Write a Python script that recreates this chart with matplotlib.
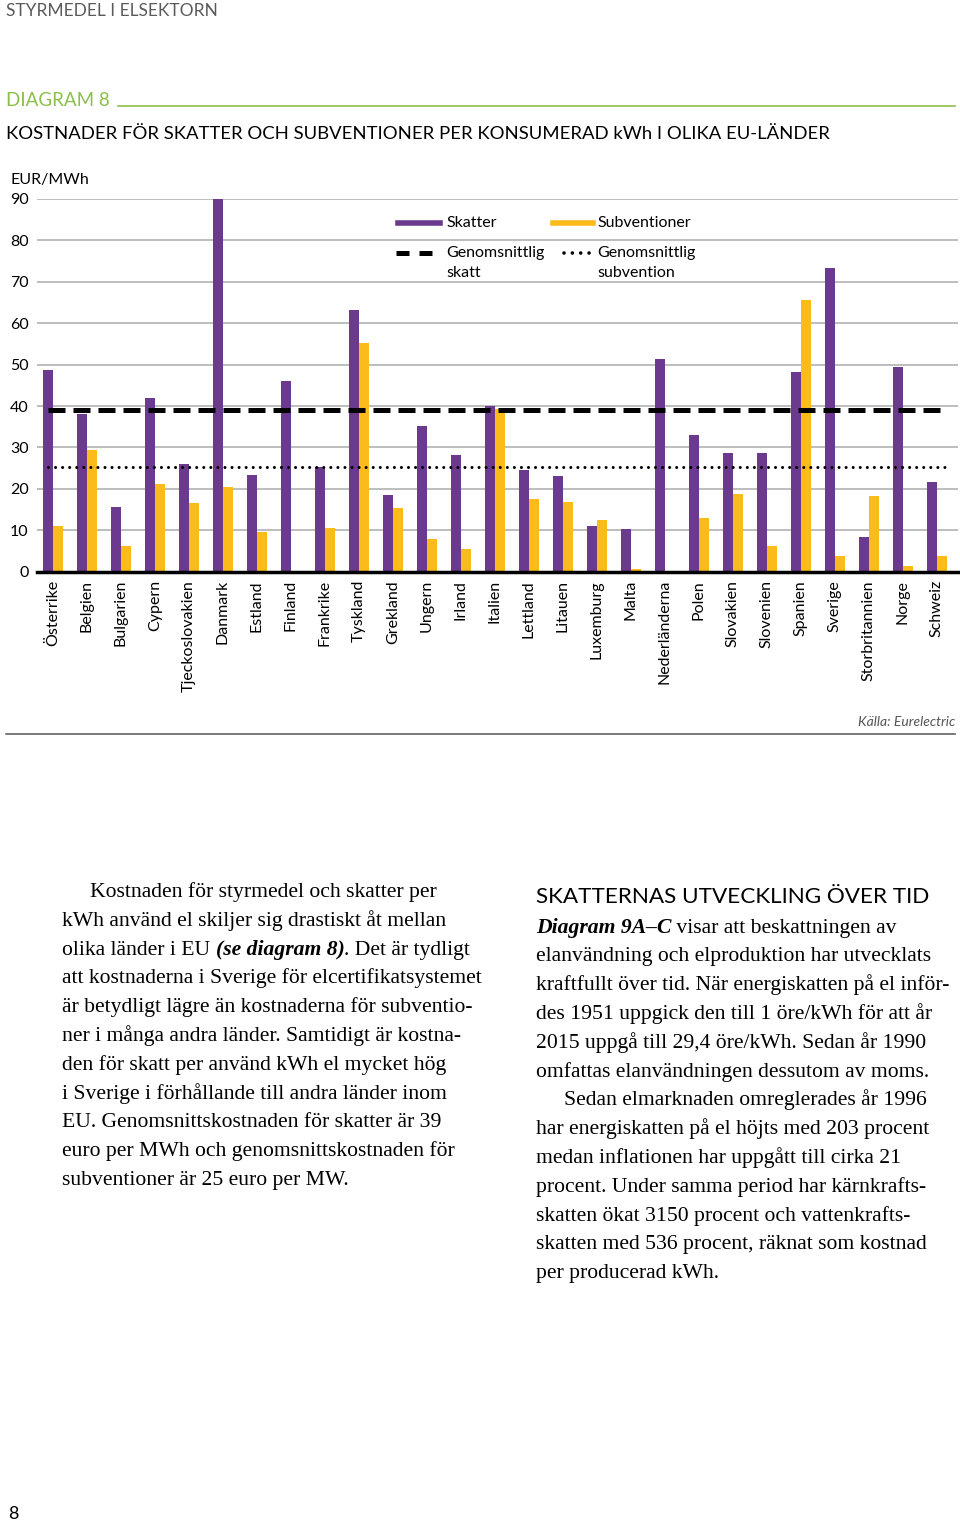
import numpy as np
import matplotlib.pyplot as plt
from matplotlib.lines import Line2D

countries = ["Österrike", "Belgien", "Bulgarien", "Cypern", "Tjeckoslovakien",
             "Danmark", "Estland", "Finland", "Frankrike", "Tyskland", "Grekland",
             "Ungern", "Irland", "Italien", "Lettland", "Litauen", "Luxemburg",
             "Malta", "Nederländerna", "Polen", "Slovakien", "Slovenien",
             "Spanien", "Sverige", "Storbritannien", "Norge", "Schweiz"]
skatter = [48.6, 38.0, 15.6, 42.0, 26.1, 90.0, 23.3, 46.0, 25.4, 63.2, 18.5,
           35.1, 28.3, 39.9, 24.6, 23.1, 11.0, 10.3, 51.4, 33.0, 28.6, 28.6,
           48.2, 73.3, 8.5, 49.4, 21.7]
subventioner = [11.0, 29.4, 6.2, 21.1, 16.7, 20.5, 9.6, 0.0, 10.6, 55.2, 15.3,
                8.0, 5.6, 39.2, 17.6, 16.9, 12.4, 0.6, 0.0, 13.0, 18.8, 6.3,
                65.5, 3.9, 18.3, 1.4, 3.9]
snitt_skatt = 39.1
snitt_subvention = 25.4
yticks = [0, 10, 20, 30, 40, 50, 60, 70, 80, 90]

PURPLE = "#6b3a8f"
YELLOW = "#fbbb1a"
GREEN = "#8cbf4c"
SANS = "Lato"
SERIF = "Liberation Serif"

W, H = 960, 1525
fig = plt.figure(figsize=(W / 100, H / 100), dpi=100)


def fx(px):
    return px / W


def fy(py):
    return 1 - py / H


# ---- chart ----
ax = fig.add_axes([fx(37), fy(571.7), fx(958) - fx(37), fy(199) - fy(571.7)])
x = np.arange(len(countries))
w = 0.303
ax.bar(x - w / 2, skatter, width=w, color=PURPLE, zorder=3)
ax.bar(x + w / 2, subventioner, width=w, color=YELLOW, zorder=3)
ax.hlines(snitt_skatt, -0.15, 26.15, colors="black", lw=3.6,
          linestyles=(0, (3.4, 1.6)), zorder=4, capstyle="butt")
ax.hlines(snitt_subvention, -0.15, 26.3, colors="black", lw=2.2,
          linestyles=(0, (0.01, 2.3)), zorder=4, capstyle="round")
ax.axhline(0, color="black", lw=2.5, zorder=5, clip_on=False)

ax.set_xlim(-0.47, 26.62)
ax.set_ylim(0, 90)
ax.set_yticks(yticks)
ax.set_yticklabels([str(v) for v in yticks], fontsize=11.5, family=SANS)
for v in yticks[1:]:
    ax.axhline(v, color="#ababab", lw=1.1, zorder=1)
ax.set_xticks(x)
ax.set_xticklabels(countries, rotation=90, fontsize=11.5, family=SANS,
                   va="top", ha="center")
ax.tick_params(axis="both", length=0)
ax.tick_params(axis="x", pad=6)
ax.tick_params(axis="y", pad=6)
for s in ax.spines.values():
    s.set_visible(False)
ax.patches[5].set_clip_on(False)

fig.text(fx(10), fy(180), "EUR/MWh", fontsize=11.5, family=SANS, va="center")

# legend drawn by hand so the two-line labels line up like the original
leg = dict(fontsize=11.5, family=SANS, va="center")
fig.add_artist(Line2D([fx(398), fx(440)], [fy(223)] * 2, color=PURPLE, lw=4))
fig.text(fx(446), fy(223), "Skatter", **leg)
fig.add_artist(Line2D([fx(553), fx(593)], [fy(223)] * 2, color=YELLOW, lw=4))
fig.text(fx(597), fy(223), "Subventioner", **leg)
fig.add_artist(Line2D([fx(396), fx(432)], [fy(253)] * 2, color="black", lw=3.6,
                      linestyle=(0, (2.6, 2.0)), dash_capstyle="butt"))
fig.text(fx(446), fy(253), "Genomsnittlig", **leg)
fig.text(fx(446), fy(273), "skatt", **leg)
fig.add_artist(Line2D([fx(564), fx(590)], [fy(253)] * 2, color="black", lw=2.6,
                      linestyle=(0, (0.01, 2.3)), dash_capstyle="round"))
fig.text(fx(597), fy(253), "Genomsnittlig", **leg)
fig.text(fx(597), fy(273), "subvention", **leg)

# ---- page furniture ----
fig.text(fx(6), fy(11), "STYRMEDEL I ELSEKTORN", fontsize=12.5, family=SANS,
         color="#5a5a5a", va="center")
fig.text(fx(6), fy(100), "DIAGRAM 8", fontsize=13.5, family=SANS,
         color=GREEN, va="center")
fig.add_artist(Line2D([fx(118), fx(955)], [fy(105.5)] * 2, color=GREEN, lw=1.2))
fig.text(fx(6), fy(134), "KOSTNADER FÖR SKATTER OCH SUBVENTIONER PER KONSUMERAD kWh I OLIKA EU-LÄNDER",
         fontsize=13.3, family=SANS, va="center")
fig.text(fx(955), fy(722), "Källa: Eurelectric", fontsize=10, family=SANS,
         style="italic", color="#555555", ha="right", va="center")
fig.add_artist(Line2D([fx(6), fx(955)], [fy(734)] * 2, color="#555555", lw=1.1))
fig.text(fx(8), fy(1514), "8", fontsize=13, family=SANS, va="center")

# ---- body text ----
renderer = fig.canvas.get_renderer()
BODY = 15.6
BOLDIT = dict(fontweight="bold", style="italic")


def rich_line(x_px, base_px, parts):
    xp = x_px
    for txt, style in parts:
        t = fig.text(fx(xp), fy(base_px), txt, fontsize=BODY, family=SERIF,
                     va="baseline", **style)
        xp += t.get_window_extent(renderer).width


left_lines = [
    "Kostnaden för styrmedel och skatter per",
    "kWh använd el skiljer sig drastiskt åt mellan",
    None,
    "att kostnaderna i Sverige för elcertifikatsystemet",
    "är betydligt lägre än kostnaderna för subventio-",
    "ner i många andra länder. Samtidigt är kostna-",
    "den för skatt per använd kWh el mycket hög",
    "i Sverige i förhållande till andra länder inom",
    "EU. Genomsnittskostnaden för skatter är 39",
    "euro per MWh och genomsnittskostnaden för",
    "subventioner är 25 euro per MW.",
]
for i, line in enumerate(left_lines):
    base = 897 + 28.8 * i
    xs = 90 if i == 0 else 62
    if line is None:
        rich_line(xs, base, [("olika länder i EU ", {}),
                             ("(se diagram 8)", BOLDIT),
                             (". Det är tydligt", {})])
    else:
        rich_line(xs, base, [(line, {})])

fig.text(fx(536), fy(903), "SKATTERNAS UTVECKLING ÖVER TID", fontsize=16.2,
         family=SANS, va="baseline")
right_lines = [
    None,
    "elanvändning och elproduktion har utvecklats",
    "kraftfullt över tid. När energiskatten på el inför-",
    "des 1951 uppgick den till 1 öre/kWh för att år",
    "2015 uppgå till 29,4 öre/kWh. Sedan år 1990",
    "omfattas elanvändningen dessutom av moms.",
    "Sedan elmarknaden omreglerades år 1996",
    "har energiskatten på el höjts med 203 procent",
    "medan inflationen har uppgått till cirka 21",
    "procent. Under samma period har kärnkrafts-",
    "skatten ökat 3150 procent och vattenkrafts-",
    "skatten med 536 procent, räknat som kostnad",
    "per producerad kWh.",
]
for i, line in enumerate(right_lines):
    base = 932.7 + 28.8 * i
    xs = 564 if i == 6 else 536
    if line is None:
        rich_line(xs, base, [("Diagram 9A–C", BOLDIT),
                             (" visar att beskattningen av", {})])
    else:
        rich_line(xs, base, [(line, {})])

fig.savefig("out.png", dpi=100, facecolor="white")
